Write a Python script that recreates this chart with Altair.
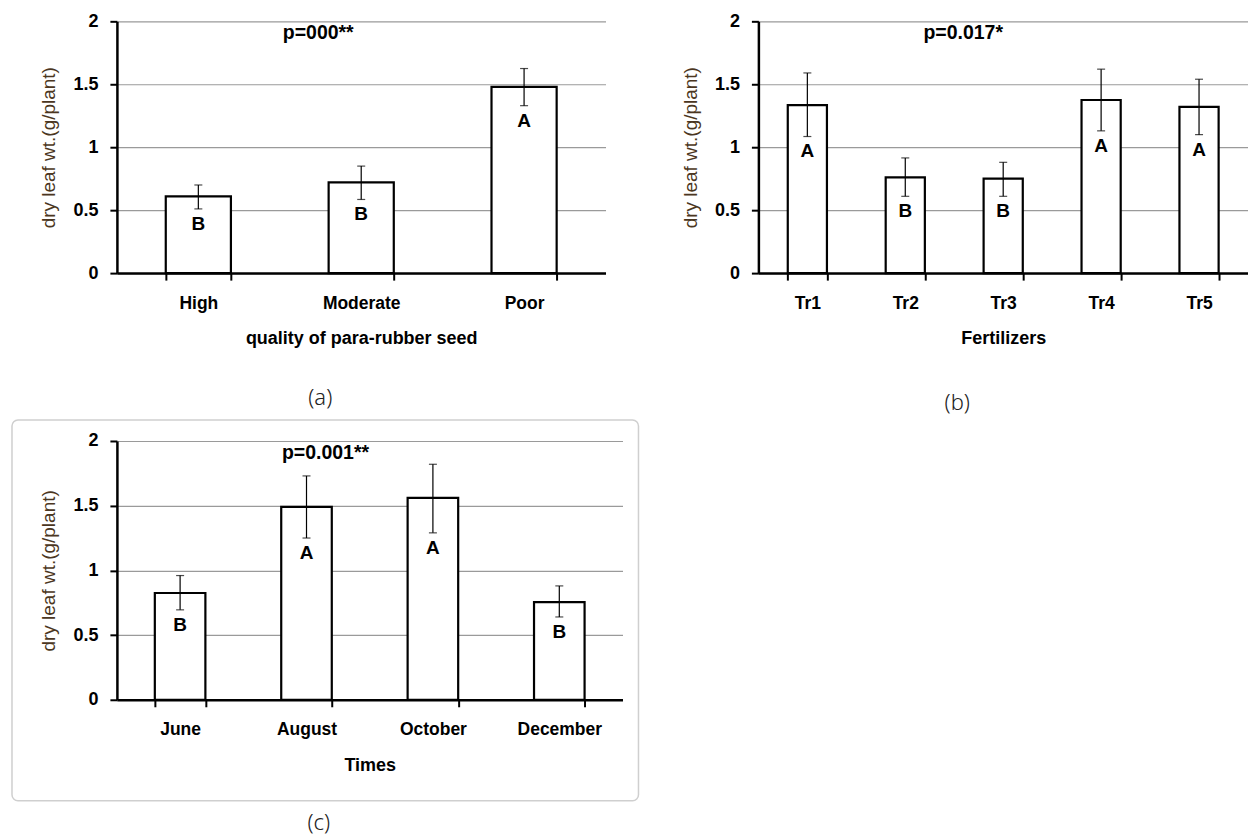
import altair as alt
import pandas as pd

# ---- data ----
quality = ["High", "Moderate", "Poor"]
quality_mean = [0.61, 0.72, 1.48]
quality_low = [0.51, 0.585, 1.33]
quality_high = [0.70, 0.85, 1.625]
quality_letter = ["B", "B", "A"]

fert = ["Tr1", "Tr2", "Tr3", "Tr4", "Tr5"]
fert_mean = [1.335, 0.76, 0.75, 1.375, 1.32]
fert_low = [1.085, 0.61, 0.61, 1.13, 1.10]
fert_high = [1.59, 0.915, 0.88, 1.62, 1.54]
fert_letter = ["A", "B", "B", "A", "A"]

times = ["June", "August", "October", "December"]
times_mean = [0.825, 1.49, 1.56, 0.755]
times_low = [0.695, 1.25, 1.29, 0.64]
times_high = [0.96, 1.73, 1.82, 0.88]
times_letter = ["B", "A", "A", "B"]

y_ticks = [0, 0.5, 1, 1.5, 2]
y_title = "dry leaf wt.(g/plant)"

FONT = "Liberation Sans, Arial, sans-serif"
CAP_FONT = "Noto Sans, Open Sans, sans-serif"


def panel(cats, mean, low, high, letters, xtitle, ptext, pcat, pdx,
          width, height, caption, cap_dx, cap_offset, frame=False):
    df = pd.DataFrame({"cat": cats, "mean": mean, "low": low,
                       "high": high, "letter": letters})
    xscale = alt.Scale(domain=cats, paddingInner=0.6, paddingOuter=0.3)
    yscale = alt.Scale(domain=[0, 2], nice=False)
    xaxis = alt.Axis(title=xtitle, labelAngle=0, tickBand="extent",
                     domainColor="black", domainWidth=2.5,
                     tickColor="black", tickWidth=2, tickSize=7,
                     labelFont=FONT, labelFontSize=17.5, labelFontWeight="bold",
                     labelColor="black", labelPadding=14,
                     titleFont=FONT, titleFontSize=18, titleFontWeight="bold",
                     titleColor="black", titlePadding=18, grid=False)
    yaxis = alt.Axis(title=y_title, values=y_ticks, format="~g",
                     grid=True, gridColor="#9a9a9a", gridWidth=1.2,
                     domainColor="black", domainWidth=2.5,
                     tickColor="black", tickWidth=2, tickSize=7,
                     labelFont=FONT, labelFontSize=18, labelFontWeight="bold",
                     labelColor="black", labelPadding=12,
                     titleFont=FONT, titleFontSize=19, titleFontWeight="normal",
                     titleColor="#4b3621", titlePadding=14)
    X = alt.X("cat:N", scale=xscale, sort=cats, axis=xaxis, title=xtitle)
    Xp = alt.X("cat:N", sort=cats, title=xtitle)
    base = alt.Chart(df)
    bars = base.mark_bar(fill="white", stroke="black", strokeWidth=2.2).encode(
        x=X, y=alt.Y("mean:Q", scale=yscale, axis=yaxis, title=y_title))
    rule = base.mark_rule(color="black", strokeWidth=1.2).encode(
        x=Xp, y=alt.Y("low:Q", title=y_title), y2="high:Q")
    cap_lo = base.mark_tick(color="black", size=8, thickness=1.2).encode(
        x=Xp, y=alt.Y("low:Q", title=y_title))
    cap_hi = base.mark_tick(color="black", size=8, thickness=1.2).encode(
        x=Xp, y=alt.Y("high:Q", title=y_title))
    lett = base.mark_text(font=FONT, fontSize=19, fontWeight="bold",
                          color="black", baseline="middle", dy=15).encode(
        x=Xp, y=alt.Y("low:Q", title=y_title), text="letter:N")
    ptxt = alt.Chart(pd.DataFrame({"t": [ptext]})).mark_text(
        font=FONT, fontSize=19.5, fontWeight="bold", color="black",
        baseline="middle", dx=pdx).encode(
        x=alt.datum(pcat), y=alt.datum(1.91), text="t:N")
    layers = [bars, rule, cap_lo, cap_hi, lett, ptxt]
    if frame:
        box = alt.Chart(pd.DataFrame({"k": [0]})).mark_rect(
            fillOpacity=0, stroke="#cfcfcf", strokeWidth=1.5, cornerRadius=6).encode(
            x=alt.value(-105), x2=alt.value(width + 16),
            y=alt.value(-21), y2=alt.value(height + 101))
        layers = [box] + layers
    return alt.layer(*layers).properties(
        width=width, height=height,
        title=alt.TitleParams(caption, orient="bottom", frame="group",
                              anchor="middle", dx=cap_dx, offset=cap_offset,
                              font=CAP_FONT, fontSize=22, fontWeight=300,
                              color="#222222"))


pa = panel(quality, quality_mean, quality_low, quality_high, quality_letter,
           "quality of para-rubber seed", "p=000**", "Moderate", -43,
           489, 252, "(a)", -41, 40)
pb = panel(fert, fert_mean, fert_low, fert_high, fert_letter,
           "Fertilizers", "p=0.017*", "Tr3", -40,
           490, 252, "(b)", -46, 45)
pc = panel(times, times_mean, times_low, times_high, times_letter,
           "Times", "p=0.001**", "August", 19,
           506, 259, "(c)", -51, 12, frame=True)

chart = alt.concat(pa, pb, pc, columns=2, bounds="flush",
                   spacing={"row": 168, "column": 136}).properties(
    padding={"left": 11, "top": 12, "right": 0, "bottom": 0},
    background="white",
).configure_view(stroke=None)

chart.save("out.html", embed_options={"renderer": "svg", "actions": False})
